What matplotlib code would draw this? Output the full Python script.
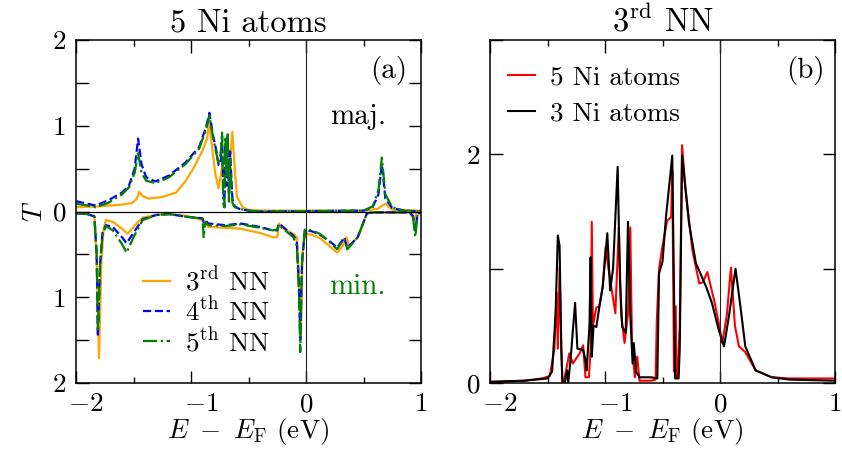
import numpy as np
import matplotlib
matplotlib.use("Agg")
import matplotlib.pyplot as plt
from matplotlib.transforms import ScaledTranslation

plt.rcParams['font.family'] = 'serif'
plt.rcParams['font.serif'] = ['cmr10', 'DejaVu Serif']
plt.rcParams['mathtext.fontset'] = 'cm'
plt.rcParams['axes.formatter.use_mathtext'] = True
plt.rcParams['font.size'] = 19.5

# ---- panel (a): 5 Ni atoms, majority (up) and minority (down)
E_maj_3 = [-2.0, -1.8, -1.6, -1.51, -1.47, -1.45, -1.42, -1.37, -1.25, -1.13,
           -1.05, -0.98, -0.90, -0.86, -0.845, -0.82, -0.79, -0.76, -0.72, -0.70,
           -0.68, -0.66, -0.64, -0.62, -0.60, -0.55, -0.50, -0.4, 0.5, 0.62,
           0.69, 0.75, 1.0]
T_maj_3 = [0.05, 0.06, 0.08, 0.10, 0.15, 0.23, 0.18, 0.15, 0.17, 0.22,
           0.35, 0.50, 0.71, 0.85, 1.04, 0.8, 0.45, 0.27, 0.6, 0.75,
           0.4, 0.6, 0.93, 0.5, 0.17, 0.05, 0.02, 0.01, 0.01, 0.03,
           0.09, 0.02, 0.01]

E_maj_45 = [-2.0, -1.9, -1.83, -1.72, -1.6, -1.54, -1.49, -1.46, -1.43, -1.39,
            -1.31, -1.19, -1.05, -0.93, -0.87, -0.84, -0.81, -0.78, -0.76, -0.74,
            -0.73, -0.72, -0.71, -0.70, -0.69, -0.68, -0.67, -0.66, -0.64, -0.62,
            -0.58, -0.5, -0.4, 0.5, 0.58, 0.63, 0.66, 0.69, 0.75, 0.85,
            1.0]
T_maj_4 = [0.12, 0.09, 0.07, 0.13, 0.22, 0.30, 0.5, 0.85, 0.55, 0.40,
           0.35, 0.42, 0.57, 0.75, 0.98, 1.15, 0.9, 0.71, 0.54, 0.6,
           0.88, 0.3, 0.05, 0.8, 0.3, 0.9, 0.2, 0.7, 0.15, 0.06,
           0.03, 0.01, 0.0, 0.01, 0.05, 0.2, 0.55, 0.15, 0.04, 0.01,
           0.0]
T_maj_5 = [0.09, 0.07, 0.05, 0.10, 0.20, 0.28, 0.45, 0.68, 0.45, 0.36,
           0.33, 0.40, 0.55, 0.73, 0.95, 1.12, 0.88, 0.68, 0.55, 0.7,
           0.92, 0.1, 0.05, 0.85, 0.4, 0.92, 0.1, 0.6, 0.1, 0.05,
           0.03, 0.01, 0.0, 0.01, 0.06, 0.25, 0.63, 0.2, 0.05, 0.01,
           0.0]

E_min_3 = [-2.0, -1.9, -1.84, -1.82, -1.80, -1.78, -1.76, -1.74, -1.68, -1.6,
           -1.55, -1.5, -1.42, -1.3, -1.19, -1.05, -0.9, -0.885, -0.87, -0.85,
           -0.7, -0.57, -0.4, -0.29, -0.25, -0.235, -0.2, -0.11, -0.08, -0.06,
           -0.045, -0.03, -0.01, 0.05, 0.12, 0.2, 0.27, 0.32, 0.35, 0.38,
           0.45, 0.53, 0.6, 0.9, 0.94, 0.96, 1.0]
T_min_3 = [0.02, 0.03, 0.05, 0.6, 1.71, 0.6, 0.2, 0.1, 0.12, 0.2,
           0.26, 0.18, 0.07, 0.04, 0.03, 0.05, 0.1, 0.16, 0.12, 0.18,
           0.19, 0.20, 0.25, 0.3, 0.3, 0.14, 0.2, 0.26, 0.3, 0.8,
           1.46, 0.5, 0.26, 0.27, 0.31, 0.4, 0.48, 0.4, 0.3, 0.4,
           0.3, 0.02, 0.01, 0.01, 0.1, 0.02, 0.01]

E_min_45 = [-2.0, -1.9, -1.84, -1.82, -1.81, -1.79, -1.77, -1.74, -1.68, -1.6,
            -1.56, -1.5, -1.42, -1.3, -1.19, -1.05, -0.9, -0.89, -0.875, -0.85,
            -0.7, -0.57, -0.4, -0.29, -0.25, -0.235, -0.2, -0.11, -0.08, -0.06,
            -0.05, -0.035, -0.01, 0.05, 0.12, 0.2, 0.27, 0.31, 0.33, 0.36,
            0.45, 0.53, 0.6, 0.9, 0.93, 0.95, 0.97, 1.0]
T_min_4 = [0.02, 0.03, 0.06, 0.5, 1.46, 0.6, 0.25, 0.16, 0.18, 0.3,
           0.37, 0.25, 0.09, 0.04, 0.03, 0.06, 0.08, 0.12, 0.1, 0.14,
           0.16, 0.14, 0.18, 0.22, 0.22, 0.14, 0.18, 0.28, 0.35, 0.9,
           1.5, 0.6, 0.22, 0.23, 0.27, 0.34, 0.42, 0.35, 0.3, 0.42,
           0.3, 0.02, 0.01, 0.01, 0.05, 0.22, 0.03, 0.01]
T_min_5 = [0.02, 0.03, 0.06, 0.5, 1.40, 0.6, 0.28, 0.17, 0.22, 0.38,
           0.48, 0.3, 0.1, 0.04, 0.03, 0.06, 0.08, 0.3, 0.12, 0.16,
           0.17, 0.15, 0.19, 0.22, 0.21, 0.15, 0.2, 0.3, 0.4, 1.0,
           1.64, 0.6, 0.21, 0.22, 0.26, 0.35, 0.44, 0.36, 0.32, 0.44,
           0.3, 0.02, 0.01, 0.01, 0.06, 0.3, 0.03, 0.01]

# ---- panel (b): 3rd NN, 5 vs 3 Ni atoms
E_5Ni = [-2.0, -1.7, -1.55, -1.48, -1.44, -1.42, -1.41, -1.395, -1.38, -1.37,
         -1.35, -1.31, -1.28, -1.26, -1.22, -1.19, -1.17, -1.14, -1.125, -1.115,
         -1.105, -1.075, -1.05, -1.02, -0.995, -0.97, -0.91, -0.88, -0.86, -0.83,
         -0.80, -0.78, -0.765, -0.74, -0.72, -0.70, -0.60, -0.56, -0.55, -0.53,
         -0.50, -0.46, -0.425, -0.415, -0.40, -0.385, -0.38, -0.37, -0.35, -0.33,
         -0.30, -0.24, -0.18, -0.15, -0.11, -0.05, -0.01, 0.02, 0.06, 0.095,
         0.13, 0.165, 0.22, 0.31, 0.45, 0.6, 1.0]
T_5Ni = [0.01, 0.02, 0.04, 0.06, 0.3, 0.79, 0.3, 1.01, 0.3, 0.0,
         0.05, 0.26, 0.17, 0.2, 0.26, 0.33, 0.05, 0.05, 0.3, 1.41,
         0.5, 0.66, 0.67, 0.84, 1.19, 1.0, 0.61, 1.36, 0.6, 0.35,
         0.6, 1.36, 0.3, 0.05, 0.23, 0.02, 0.02, 0.03, 0.53, 1.0,
         1.2, 1.42, 1.45, 1.86, 0.1, 0.67, 0.05, 0.05, 0.5, 2.08,
         1.7, 1.16, 0.87, 0.88, 0.97, 0.72, 0.52, 0.35, 0.6, 1.01,
         0.5, 0.32, 0.27, 0.11, 0.05, 0.04, 0.04]

E_3Ni = [-2.0, -1.7, -1.5, -1.46, -1.43, -1.41, -1.395, -1.38, -1.37, -1.35,
         -1.33, -1.32, -1.30, -1.26, -1.24, -1.19, -1.17, -1.16, -1.135, -1.125,
         -1.115, -1.10, -1.075, -1.05, -1.02, -0.98, -0.955, -0.93, -0.89, -0.87,
         -0.85, -0.82, -0.80, -0.78, -0.76, -0.75, -0.73, -0.70, -0.60, -0.545,
         -0.53, -0.50, -0.47, -0.415, -0.39, -0.36, -0.35, -0.33, -0.27, -0.21,
         -0.12, -0.07, -0.01, 0.035, 0.08, 0.135, 0.18, 0.22, 0.31, 0.45,
         0.6, 1.0]
T_3Ni = [0.01, 0.02, 0.04, 0.1, 0.6, 1.29, 1.2, 0.3, 0.0, 0.0,
         0.11, 0.0, 0.2, 0.7, 0.3, 0.29, 0.2, 0.11, 0.5, 1.1,
         0.23, 0.5, 0.49, 0.66, 0.84, 1.31, 0.81, 1.0, 1.89, 0.9,
         0.49, 0.44, 1.41, 0.6, 0.17, 0.35, 0.1, 0.05, 0.05, 0.04,
         0.96, 1.06, 1.45, 1.99, 0.04, 0.04, 0.3, 1.99, 1.40, 1.05,
         0.84, 0.70, 0.46, 0.32, 0.6, 1.0, 0.65, 0.32, 0.11, 0.05,
         0.03, 0.02]

xticks = [-2, -1, 0, 1]
xticklabels = ['$-2$', '$-1$', '$0$', '$1$']

fig = plt.figure(figsize=(8.42, 4.59), dpi=100)
W, H = 842., 459.
ax1 = fig.add_axes([76/W, 76/H, 345/W, 343/H])
ax2 = fig.add_axes([490/W, 76/H, 345/W, 343/H])

lw = 1.6
ax1.plot(E_maj_3, T_maj_3, color='orange', lw=lw, label='3$^{\\mathrm{rd}}$ NN')
ax1.plot(E_maj_45, T_maj_4, color='blue', lw=lw, ls='--', label='4$^{\\mathrm{th}}$ NN')
ax1.plot(E_maj_45, T_maj_5, color='green', lw=lw, ls='-.', label='5$^{\\mathrm{th}}$ NN')
ax1.plot(E_min_3, -np.array(T_min_3), color='orange', lw=lw)
ax1.plot(E_min_45, -np.array(T_min_4), color='blue', lw=lw, ls='--')
ax1.plot(E_min_45, -np.array(T_min_5), color='green', lw=lw, ls='-.')
ax1.axhline(0, color='black', lw=0.9)
ax1.axvline(0, color='#222222', lw=0.8)

ax1.set_xlim(-2, 1)
ax1.set_ylim(-2, 2)
ax1.set_yticks([-2, -1.5, -1, -0.5, 0, 0.5, 1, 1.5, 2])
ax1.set_yticklabels(['2', '', '1', '', '0', '', '1', '', '2'])
ax1.set_title('5 Ni atoms', pad=6)
ax1.set_ylabel('$T$', labelpad=4)
ax1.text(0.905, 0.91, '(a)', transform=ax1.transAxes, ha='center', va='center', fontsize=21)
ax1.text(0.817, 0.776, 'maj.', transform=ax1.transAxes, ha='center', va='center', fontsize=21)
ax1.text(0.815, 0.28, 'min.', transform=ax1.transAxes, ha='center', va='center',
         color='green', fontsize=21)
ax1.legend(loc='center left', bbox_to_anchor=(0.155, 0.21), frameon=False,
           borderpad=0, handlelength=1.0, handletextpad=0.55, labelspacing=0.05)

ax2.plot(E_5Ni, T_5Ni, color='red', lw=1.5, label='5 Ni atoms')
ax2.plot(E_3Ni, T_3Ni, color='black', lw=1.5, label='3 Ni atoms')
ax2.axvline(0, color='#222222', lw=0.8)
ax2.set_xlim(-2, 1)
ax2.set_ylim(0, 3)
ax2.set_yticks([0, 1, 2, 3])
ax2.set_yticklabels(['0', '', '2', ''])
ax2.set_title('3$^{\\mathrm{rd}}$ NN', pad=6)
ax2.text(0.913, 0.91, '(b)', transform=ax2.transAxes, ha='center', va='center', fontsize=21)
ax2.legend(loc='center left', bbox_to_anchor=(0.012, 0.837), frameon=False,
           borderpad=0, handlelength=1.0, handletextpad=0.55, labelspacing=0.45)

# negative tick labels sit a little to the right of their ticks in the original
shift = ScaledTranslation(10/100., 0, fig.dpi_scale_trans)
for ax in (ax1, ax2):
    ax.set_xticks(xticks)
    ax.set_xticklabels(xticklabels)
    ax.set_xticks([-1.5, -0.5, 0.5], minor=True)
    ax.set_xlabel('$E\\ -\\ E_{\\mathrm{F}}$ (eV)', labelpad=0)
    ax.tick_params(which='both', direction='in', top=True, right=True, width=1)
    ax.tick_params(which='major', length=9, pad=7)
    ax.tick_params(which='minor', length=4)
    for s in ax.spines.values():
        s.set_linewidth(1.1)
    for lab in ax.get_xticklabels():
        if '-' in lab.get_text():
            lab.set_transform(lab.get_transform() + shift)

fig.savefig('out.png', dpi=100)
